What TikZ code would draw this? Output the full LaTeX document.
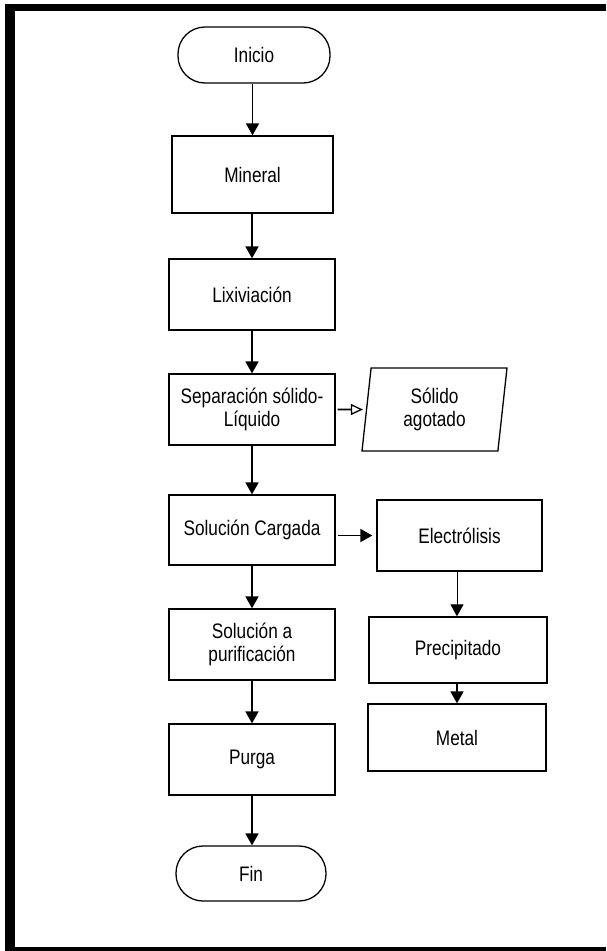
\documentclass[tikz,border=0pt]{standalone}
\usepackage{fontspec}
\setmainfont{Liberation Sans}[FakeStretch=0.82]
\usetikzlibrary{arrows.meta,shapes.geometric}
\tikzset{
  box/.style={draw=black, line width=1.3pt, rectangle, inner sep=0pt, align=center,
    font=\fontsize{21}{23}\selectfont},
  term/.style={box, rounded corners=27pt},
  para/.style={draw=black, line width=1.3pt, trapezium, trapezium left angle=78,
    trapezium right angle=102, trapezium stretches body=true, inner sep=0pt, align=center,
    font=\fontsize{21}{23}\selectfont},
  arr/.style={line width=1.8pt, -{Triangle[length=12pt,width=13pt]}},
  arrthin/.style={line width=1pt, -{Triangle[length=12pt,width=13pt]}},
  arropen/.style={line width=1.6pt, -{Triangle[open,length=12pt,width=11pt,line width=1.3pt]}},
}
\begin{document}
\begin{tikzpicture}[x=1pt,y=-1pt]
\useasboundingbox (0,0) rectangle (606,951);
\fill[white] (0,0) rectangle (606,951);
\fill[black] (5,4) rectangle (606,951);
\fill[white] (15,11) rectangle (606,947);

\node[term, minimum width=152pt, minimum height=56pt] (inicio) at (254,55) {Inicio};
\node[box, minimum width=161pt, minimum height=77pt] (mineral) at (252.5,174.5) {Mineral};
\node[box, minimum width=166pt, minimum height=71pt] (lix) at (252,294.5) {Lixiviación};
\node[box, minimum width=166pt, minimum height=71pt] (sep) at (252,409.5) {Separación sólido-\\Líquido};
\node[para, minimum width=145pt, minimum height=83pt] (solido) at (434.5,409.5) {Sólido\\agotado};
\node[box, minimum width=166pt, minimum height=70pt] (carg) at (252,530) {Solución Cargada};
\node[box, minimum width=166pt, minimum height=71pt] (purif) at (252,644.5) {Solución a\\purificación};
\node[box, minimum width=166pt, minimum height=71pt] (purga) at (252,759.5) {Purga};
\node[term, minimum width=150pt, minimum height=55pt] (fin) at (251,873.5) {Fin};
\node[box, minimum width=165pt, minimum height=71pt] (electro) at (459.5,535.5) {Electrólisis};
\node[box, minimum width=178pt, minimum height=66pt] (precip) at (458,650) {Precipitado};
\node[box, minimum width=178pt, minimum height=67pt] (metal) at (457,737.5) {Metal};

\draw[arr] (inicio.south -| mineral.north) -- (mineral.north);
\draw[arr] (mineral.south -| lix.north) -- (lix.north);
\draw[arr] (lix.south) -- (sep.north);
\draw[arropen, shorten <=2pt, shorten >=3pt] (sep.east) -- (solido.west);
\draw[arr] (sep.south) -- (carg.north);
\draw[arr, shorten <=2pt, shorten >=4pt] (carg.east |- electro.west) -- (electro.west);
\draw[arr] (carg.south) -- (purif.north);
\draw[arr] (purif.south) -- (purga.north);
\draw[arr] (purga.south) -- (fin.north -| purga.south);
\draw[arrthin] (electro.south -| metal.north) -- (precip.north -| metal.north);
\draw[arr] (precip.south -| metal.north) -- (metal.north);
\end{tikzpicture}
\end{document}
